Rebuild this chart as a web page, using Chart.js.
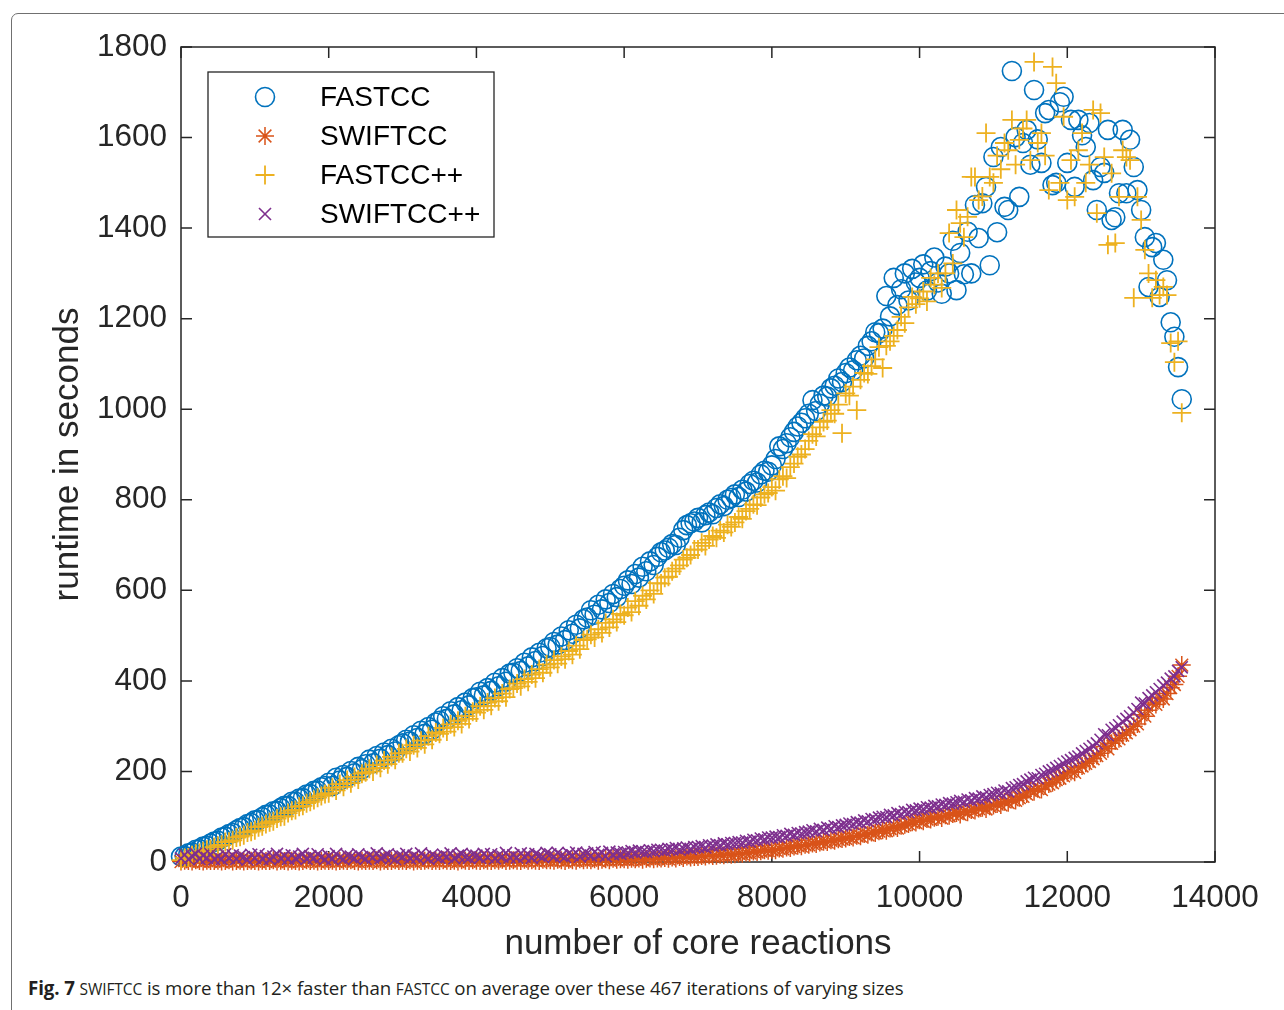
<!DOCTYPE html>
<html>
<head>
<meta charset="utf-8">
<script src="https://cdn.jsdelivr.net/npm/chart.js@4.4.1/dist/chart.umd.min.js"></script>
<style>
  html, body { margin: 0; padding: 0; background: #fff; overflow: hidden; }
  body { width: 1284px; height: 1010px; position: relative; }
  #frame { position: absolute; left: 11px; top: 13px; width: 1400px; height: 1100px;
           border: 1px solid #707070; border-radius: 7px; }
  #wrap { position: absolute; left: 0; top: 0; width: 1284px; height: 970px; }
  #caption { position: absolute; left: 28px; top: 975px; font-family: "Open Sans", sans-serif;
             font-size: 18.7px; color: #231f20; white-space: nowrap; letter-spacing: -0.1px; }
  #caption .sc { font-size: 0.83em; }
</style>
</head>
<body>
<div id="frame"></div>
<div id="wrap"><canvas id="chart"></canvas></div>
<div id="caption"><b>Fig. 7</b> <span class="sc">SWIFTCC</span> is more than 12× faster than <span class="sc">FASTCC</span> on average over these 467 iterations of varying sizes</div>
<script>
// number of core reactions (shared by all four series)
const xs = [
  0, 50, 100, 150, 200, 250, 300, 350, 400, 450,
  500, 550, 600, 650, 700, 750, 800, 850, 900, 950,
  1000, 1050, 1100, 1150, 1200, 1250, 1300, 1350, 1400, 1450,
  1500, 1550, 1600, 1650, 1700, 1750, 1800, 1850, 1900, 1950,
  2000, 2050, 2100, 2150, 2200, 2250, 2300, 2350, 2400, 2450,
  2500, 2550, 2600, 2650, 2700, 2750, 2800, 2850, 2900, 2950,
  3000, 3050, 3100, 3150, 3200, 3250, 3300, 3350, 3400, 3450,
  3500, 3550, 3600, 3650, 3700, 3750, 3800, 3850, 3900, 3950,
  4000, 4050, 4100, 4150, 4200, 4250, 4300, 4350, 4400, 4450,
  4500, 4550, 4600, 4650, 4700, 4750, 4800, 4850, 4900, 4950,
  5000, 5050, 5100, 5150, 5200, 5250, 5300, 5350, 5400, 5450,
  5500, 5550, 5600, 5650, 5700, 5750, 5800, 5850, 5900, 5950,
  6000, 6050, 6100, 6150, 6200, 6250, 6300, 6350, 6400, 6450,
  6500, 6550, 6600, 6650, 6700, 6750, 6800, 6850, 6900, 6950,
  7000, 7050, 7100, 7150, 7200, 7250, 7300, 7350, 7400, 7450,
  7500, 7550, 7600, 7650, 7700, 7750, 7800, 7850, 7900, 7950,
  8000, 8050, 8100, 8150, 8200, 8250, 8300, 8350, 8400, 8450,
  8500, 8550, 8600, 8650, 8700, 8750, 8800, 8850, 8900, 8950,
  9000, 9050, 9100, 9150, 9200, 9250, 9300, 9350, 9400, 9450,
  9500, 9550, 9600, 9650, 9700, 9750, 9800, 9850, 9900, 9950,
  10000, 10050, 10100, 10150, 10200, 10250, 10300, 10350, 10400, 10450,
  10500, 10550, 10600, 10650, 10700, 10750, 10800, 10850, 10900, 10950,
  11000, 11050, 11100, 11150, 11200, 11250, 11300, 11350, 11400, 11450,
  11500, 11550, 11600, 11650, 11700, 11750, 11800, 11850, 11900, 11950,
  12000, 12050, 12100, 12150, 12200, 12250, 12300, 12350, 12400, 12450,
  12500, 12550, 12600, 12650, 12700, 12750, 12800, 12850, 12900, 12950,
  13000, 13050, 13100, 13150, 13200, 13250, 13300, 13350, 13400, 13450,
  13500, 13550
];

// runtime in seconds
const fastcc = [
  12, 13, 19, 21, 27, 28, 34, 36, 41, 45,
  47, 54, 56, 62, 64, 70, 75, 77, 84, 86,
  92, 93, 99, 104, 105, 112, 113, 119, 124, 124,
  133, 133, 140, 141, 149, 150, 157, 158, 165, 168,
  175, 168, 186, 180, 192, 188, 201, 196, 210, 205,
  216, 226, 218, 234, 228, 242, 236, 250, 244, 258,
  262, 270, 266, 280, 274, 290, 283, 298, 292, 308,
  312, 322, 316, 333, 326, 342, 335, 352, 346, 362,
  364, 376, 368, 384, 378, 396, 388, 406, 398, 416,
  418, 428, 422, 440, 432, 452, 444, 462, 455, 472,
  475, 486, 480, 498, 490, 512, 504, 524, 516, 536,
  540, 556, 546, 568, 558, 580, 572, 592, 585, 603,
  610, 622, 614, 636, 628, 652, 642, 664, 656, 674,
  684, 688, 694, 702, 700, 716, 733, 744, 748, 752,
  760, 750, 766, 772, 768, 782, 790, 786, 800, 804,
  812, 806, 822, 818, 835, 842, 838, 856, 864, 862,
  876, 890, 918, 912, 925, 938, 950, 962, 970, 980,
  990, 1020, 996, 1012, 1030, 1028, 1046, 1052, 1068, 1060,
  1080, 1092, 1086, 1108, 1118, 1112, 1140, 1150, 1170, 1168,
  1178, 1250, 1205, 1290, 1230, 1265, 1300, 1240, 1310, 1280,
  1290, 1320, 1262, 1305, 1335, 1280, 1255, 1315, 1300, 1372,
  1263, 1345, 1298, 1392, 1300, 1451, 1378, 1455, 1491, 1318,
  1557, 1391, 1579, 1447, 1440, 1747, 1601, 1469, 1588, 1617,
  1540, 1705, 1596, 1544, 1654, 1661, 1495, 1500, 1678, 1690,
  1544, 1639, 1491, 1639, 1605, 1579, 1632, 1506, 1440, 1535,
  1522, 1617, 1418, 1424, 1477, 1617, 1477, 1595, 1535, 1484,
  1440, 1380, 1270, 1358, 1367, 1248, 1330, 1285, 1192, 1160,
  1093, 1022
];

const swiftcc = [
  1, 3, 2, 1, 4, 2, 1, 3, 2, 2,
  3, 1, 2, 4, 1, 2, 3, 1, 2, 3,
  2, 1, 3, 2, 2, 4, 1, 3, 2, 1,
  3, 2, 1, 2, 4, 2, 3, 1, 2, 3,
  2, 3, 1, 2, 3, 2, 4, 2, 1, 3,
  2, 3, 2, 4, 1, 3, 2, 2, 4, 2,
  3, 2, 4, 1, 3, 2, 3, 4, 2, 3,
  2, 4, 3, 2, 3, 1, 4, 3, 2, 4,
  3, 2, 4, 3, 2, 4, 3, 5, 2, 3,
  4, 3, 2, 5, 3, 4, 3, 2, 5, 4,
  4, 3, 5, 4, 2, 5, 4, 3, 6, 4,
  5, 4, 6, 3, 5, 6, 4, 7, 5, 6,
  6, 5, 7, 6, 8, 5, 7, 8, 6, 8,
  8, 9, 7, 10, 8, 11, 9, 12, 10, 11,
  11, 13, 12, 15, 13, 14, 16, 15, 17, 16,
  17, 19, 18, 21, 20, 23, 22, 24, 26, 25,
  27, 26, 30, 29, 32, 31, 34, 36, 35, 38,
  38, 41, 40, 43, 45, 44, 48, 47, 50, 51,
  52, 55, 54, 58, 57, 62, 60, 65, 64, 68,
  70, 69, 74, 76, 75, 80, 82, 84, 88, 87,
  92, 90, 95, 94, 98, 100, 97, 103, 102, 106,
  108, 105, 112, 110, 115, 114, 118, 120, 117, 123,
  125, 128, 126, 133, 131, 138, 136, 142, 145, 150,
  158, 155, 162, 160, 168, 172, 175, 182, 185, 190,
  197, 200, 198, 208, 212, 218, 222, 228, 235, 240,
  255, 250, 262, 268, 272, 280, 285, 292, 300, 305,
  325, 322, 335, 351, 348, 362, 360, 372, 385, 392,
  410, 435
];

const fastccPP = [
  4, 9, 10, 15, 18, 20, 24, 27, 28, 33,
  36, 38, 44, 45, 48, 54, 56, 59, 65, 67,
  70, 77, 79, 84, 88, 90, 96, 100, 101, 108,
  113, 115, 122, 124, 130, 133, 137, 142, 146, 150,
  152, 164, 158, 172, 166, 181, 174, 188, 182, 195,
  198, 206, 200, 214, 208, 224, 216, 232, 226, 240,
  240, 250, 244, 258, 252, 268, 260, 278, 270, 286,
  283, 296, 288, 304, 298, 312, 305, 322, 316, 332,
  330, 344, 336, 352, 345, 362, 355, 372, 364, 382,
  384, 394, 388, 404, 398, 414, 406, 426, 418, 436,
  430, 446, 438, 454, 448, 466, 458, 478, 470, 490,
  492, 502, 496, 514, 506, 528, 518, 536, 530, 548,
  545, 562, 552, 576, 566, 588, 580, 600, 592, 616,
  615, 628, 630, 642, 648, 655, 668, 672, 678, 690,
  690, 705, 698, 712, 720, 716, 732, 728, 745, 740,
  750, 762, 758, 775, 780, 790, 788, 805, 812, 815,
  828, 820, 845, 852, 848, 872, 880, 895, 900, 912,
  930, 945, 940, 960, 972, 975, 998, 990, 1010, 947,
  1035, 1030, 1050, 998, 1065, 1080, 1078, 1095, 1110, 1137,
  1091, 1140, 1150, 1162, 1175, 1204, 1190, 1225, 1248, 1232,
  1245, 1260, 1238, 1290, 1275, 1300, 1268, 1300, 1389, 1322,
  1440, 1411, 1380, 1425, 1513, 1513, 1462, 1470, 1610, 1513,
  1500, 1560, 1530, 1588, 1572, 1639, 1540, 1595, 1620, 1639,
  1550, 1767, 1588, 1610, 1560, 1484, 1756, 1720, 1500, 1646,
  1462, 1550, 1469, 1572, 1610, 1500, 1540, 1661, 1433, 1654,
  1557, 1363, 1521, 1367, 1469, 1572, 1557, 1550, 1246, 1469,
  1418, 1352, 1300, 1246, 1285, 1252, 1270, 1252, 1146, 1104,
  1150, 992
];

const swiftccPP = [
  8, 16, 6, 13, 18, 7, 14, 9, 17, 6,
  12, 6, 17, 9, 15, 7, 14, 11, 5, 16,
  9, 17, 7, 13, 6, 12, 18, 8, 14, 7,
  15, 8, 12, 18, 7, 13, 9, 17, 11, 6,
  13, 7, 18, 10, 6, 15, 12, 8, 17, 11,
  7, 15, 10, 19, 8, 13, 17, 10, 6, 15,
  12, 18, 8, 14, 10, 19, 12, 7, 16, 11,
  9, 16, 12, 19, 8, 14, 18, 11, 9, 16,
  14, 9, 18, 11, 17, 8, 15, 12, 20, 10,
  15, 10, 19, 12, 17, 9, 18, 14, 11, 20,
  17, 12, 20, 14, 11, 19, 15, 21, 12, 18,
  19, 14, 22, 16, 20, 13, 23, 17, 21, 18,
  22, 20, 24, 21, 25, 23, 22, 26, 24, 27,
  27, 25, 29, 28, 31, 27, 30, 32, 29, 33,
  33, 35, 32, 37, 36, 39, 37, 41, 39, 42,
  42, 44, 43, 47, 45, 49, 48, 52, 50, 54,
  54, 56, 55, 59, 58, 62, 60, 64, 63, 66,
  67, 70, 68, 73, 71, 76, 74, 79, 77, 81,
  82, 85, 84, 88, 87, 92, 90, 95, 94, 98,
  100, 99, 104, 103, 108, 106, 111, 110, 115, 114,
  118, 117, 121, 120, 124, 123, 127, 126, 130, 129,
  132, 135, 133, 138, 136, 141, 140, 145, 143, 148,
  150, 153, 152, 158, 156, 163, 165, 170, 172, 178,
  182, 186, 185, 192, 195, 200, 203, 208, 212, 217,
  222, 225, 230, 233, 240, 245, 250, 256, 262, 270,
  282, 280, 292, 296, 302, 310, 316, 322, 330, 338,
  352, 350, 362, 368, 375, 382, 390, 396, 405, 410,
  422, 430
];

const yTicks = [0, 200, 400, 600, 800, 1000, 1200, 1400, 1600, 1800];
const xTicks = [0, 2000, 4000, 6000, 8000, 10000, 12000, 14000];

const FONT = '"Liberation Sans", Arial, Helvetica, sans-serif';
const AXIS = '#262626';

function pts(ys) {
  return xs.map((x, i) => ({ x: x, y: ys[i] }));
}

const series = [
  { label: 'FASTCC', data: fastcc, color: '#0072BD', style: 'circle', r: 9.5, w: 1.6, order: 4 },
  { label: 'SWIFTCC', data: swiftcc, color: '#D95319', style: 'star', r: 9, w: 1.5, order: 3 },
  { label: 'FASTCC++', data: fastccPP, color: '#EDB120', style: 'cross', r: 9.5, w: 1.8, order: 2 },
  { label: 'SWIFTCC++', data: swiftccPP, color: '#7E2F8E', style: 'crossRot', r: 8.5, w: 1.6, order: 1 }
];

// box with inward ticks on all four sides (drawn under the markers)
const boxPlugin = {
  id: 'box',
  beforeDatasetsDraw(chart) {
    const { ctx, chartArea: a, scales } = chart;
    ctx.save();
    ctx.strokeStyle = AXIS;
    ctx.lineWidth = 1.5;
    ctx.strokeRect(a.left, a.top, a.right - a.left, a.bottom - a.top);
    ctx.beginPath();
    yTicks.forEach(v => {
      const py = scales.y.getPixelForValue(v);
      ctx.moveTo(a.left, py); ctx.lineTo(a.left + 11, py);
      ctx.moveTo(a.right, py); ctx.lineTo(a.right - 11, py);
    });
    xTicks.forEach(v => {
      const px = scales.x.getPixelForValue(v);
      ctx.moveTo(px, a.bottom); ctx.lineTo(px, a.bottom - 11);
      ctx.moveTo(px, a.top); ctx.lineTo(px, a.top + 11);
    });
    ctx.stroke();
    ctx.restore();
  }
};

// MATLAB style legend box in the upper left corner
const legendPlugin = {
  id: 'boxLegend',
  afterDatasetsDraw(chart) {
    const ctx = chart.ctx;
    const L = 208, T = 72, W = 286, H = 165;
    ctx.save();
    ctx.fillStyle = '#fff';
    ctx.fillRect(L, T, W, H);
    ctx.strokeStyle = AXIS;
    ctx.lineWidth = 1.3;
    ctx.strokeRect(L, T, W, H);
    series.forEach((s, i) => {
      const cy = 97 + i * 39;
      ctx.strokeStyle = s.color;
      ctx.fillStyle = 'rgba(0,0,0,0)';
      ctx.lineWidth = s.w;
      Chart.helpers.drawPoint(ctx, { pointStyle: s.style, radius: s.r, borderWidth: s.w, rotation: 0 }, 265, cy);
      ctx.fillStyle = '#000';
      ctx.font = '28px ' + FONT;
      ctx.textAlign = 'left';
      ctx.textBaseline = 'middle';
      ctx.fillText(s.label, 320, cy + 1);
    });
    ctx.restore();
  }
};

new Chart(document.getElementById('chart'), {
  type: 'scatter',
  data: {
    datasets: series.map(s => ({
      label: s.label,
      data: pts(s.data),
      order: s.order,
      showLine: false,
      clip: false,
      pointStyle: s.style,
      pointRadius: s.r,
      pointHoverRadius: s.r,
      pointBorderWidth: s.w,
      borderColor: s.color,
      backgroundColor: 'rgba(0,0,0,0)'
    }))
  },
  options: {
    responsive: true,
    maintainAspectRatio: false,
    animation: false,
    events: [],
    layout: { padding: { top: 47, right: 69, left: 0, bottom: 0 } },
    plugins: { legend: { display: false }, tooltip: { enabled: false } },
    scales: {
      x: {
        type: 'linear', min: 0, max: 14000,
        afterFit(scale) { scale.height = 108; },
        afterBuildTicks(scale) { scale.ticks = xTicks.map(v => ({ value: v })); },
        grid: { display: false, drawTicks: false }, border: { display: false },
        ticks: { color: AXIS, font: { family: FONT, size: 31.5 }, padding: 17, maxRotation: 0,
                 autoSkip: false, callback: v => String(v) },
        title: { display: true, text: 'number of core reactions', color: AXIS,
                 font: { family: FONT, size: 35 }, padding: { top: 0, bottom: 5 } }
      },
      y: {
        type: 'linear', min: 0, max: 1800,
        afterFit(scale) { scale.width = 181; },
        afterBuildTicks(scale) { scale.ticks = yTicks.map(v => ({ value: v })); },
        grid: { display: false, drawTicks: false }, border: { display: false },
        ticks: { color: AXIS, font: { family: FONT, size: 31.5 }, padding: 14, autoSkip: false,
                 callback: v => String(v) },
        title: { display: true, text: 'runtime in seconds', color: AXIS,
                 font: { family: FONT, size: 35 }, padding: { top: 47, bottom: 0 } }
      }
    }
  },
  plugins: [boxPlugin, legendPlugin]
});
</script>
</body>
</html>
